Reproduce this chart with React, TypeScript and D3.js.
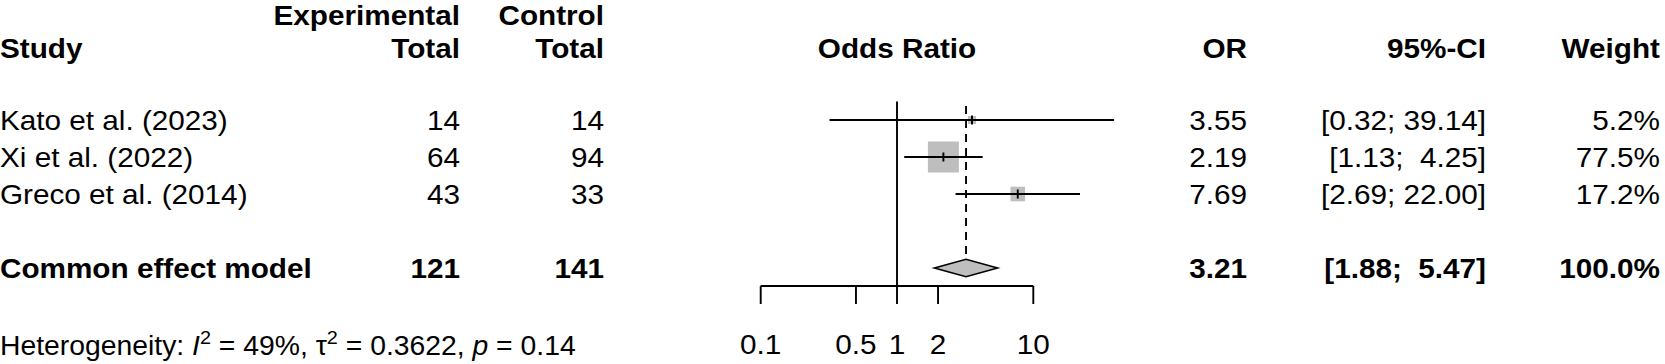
import React from "react";
import * as d3 from "d3";

const studies = ["Kato et al. (2023)", "Xi et al. (2022)", "Greco et al. (2014)"];
const expTotal = [14, 64, 43];
const ctrlTotal = [14, 94, 33];
const oddsRatio = [3.55, 2.19, 7.69];
const ciLow = [0.32, 1.13, 2.69];
const ciHigh = [39.14, 4.25, 22.0];
const weights = [5.2, 77.5, 17.2];

const pooledLabel = "Common effect model";
const pooledExp = 121;
const pooledCtrl = 141;
const pooledOR = 3.21;
const pooledLow = 1.88;
const pooledHigh = 5.47;
const pooledWeight = 100.0;

const axisTicks = [0.1, 0.5, 1, 2, 10];

const W = 1665;
const H = 364;
const FONT = "'Liberation Sans', Arial, Helvetica, sans-serif";
const FS = 27.5;
const SX = 1.08;
const GRAY = "#bebebe";
const LW = 1.9;

const x = d3.scaleLog().domain([0.1, 10]).range([760.7, 1033.3]);
const rowY = d3.scaleLinear().domain([0, 1]).range([120, 157]);
const side = d3.scaleSqrt().domain([0, 77.5]).range([0, 31]);

const f2 = d3.format(".2f");
const f1 = d3.format(".1f");
const ciText = (lo: number, hi: number) => `[${f2(lo)}; ${f2(hi).padStart(5, " ")}]`;

const COL = { study: 0, exp: 460, ctrl: 604, or: 1247, ci: 1486, weight: 1660 };

function T({ x, y, children, anchor = "start", bold = false }: any) {
  return (
    <text
      transform={`translate(${x},${y}) scale(${SX},1)`}
      textAnchor={anchor}
      fontFamily={FONT}
      fontSize={FS}
      fontWeight={bold ? "bold" : "normal"}
      fill="#000"
      style={{ whiteSpace: "pre" }}
    >
      {children}
    </text>
  );
}

export default function App() {
  const base = 9.5;
  const pooledRow = 4;
  const py = rowY(pooledRow);
  const axisY = 286;
  const diamondH = 8.7;
  return (
    <svg
      width={W}
      height={H}
      style={{ position: "absolute", left: 0, top: 0, background: "#fff" }}
    >
      <rect x={0} y={0} width={W} height={H} fill="#fff" />
      {/* headers */}
      <T x={COL.exp} y={25} anchor="end" bold>Experimental</T>
      <T x={COL.ctrl} y={25} anchor="end" bold>Control</T>
      <T x={COL.study} y={58} bold>Study</T>
      <T x={COL.exp} y={58} anchor="end" bold>Total</T>
      <T x={COL.ctrl} y={58} anchor="end" bold>Total</T>
      <T x={x(1)} y={58} anchor="middle" bold>Odds Ratio</T>
      <T x={COL.or} y={58} anchor="end" bold>OR</T>
      <T x={COL.ci} y={58} anchor="end" bold>95%-CI</T>
      <T x={COL.weight} y={58} anchor="end" bold>Weight</T>

      {/* reference line at 1 */}
      <line x1={x(1)} x2={x(1)} y1={101.5} y2={axisY} stroke="#000" strokeWidth={LW} />
      {/* pooled dashed line */}
      <line
        x1={x(pooledOR)}
        x2={x(pooledOR)}
        y1={106}
        y2={py - diamondH}
        stroke="#000"
        strokeWidth={LW}
        strokeDasharray="8,6"
      />

      {studies.map((s, i) => {
        const y = rowY(i);
        const sz = side(weights[i]);
        return (
          <g key={s}>
            <T x={COL.study} y={y + base}>{s}</T>
            <T x={COL.exp} y={y + base} anchor="end">{expTotal[i]}</T>
            <T x={COL.ctrl} y={y + base} anchor="end">{ctrlTotal[i]}</T>
            <rect
              x={x(oddsRatio[i]) - sz / 2}
              y={y - sz / 2}
              width={sz}
              height={sz}
              fill={GRAY}
            />
            <line x1={x(ciLow[i])} x2={x(ciHigh[i])} y1={y} y2={y} stroke="#000" strokeWidth={LW} />
            <line
              x1={x(oddsRatio[i])}
              x2={x(oddsRatio[i])}
              y1={y - 4.5}
              y2={y + 4.5}
              stroke="#000"
              strokeWidth={LW}
            />
            <T x={COL.or} y={y + base} anchor="end">{f2(oddsRatio[i])}</T>
            <T x={COL.ci} y={y + base} anchor="end">{ciText(ciLow[i], ciHigh[i])}</T>
            <T x={COL.weight} y={y + base} anchor="end">{f1(weights[i]) + "%"}</T>
          </g>
        );
      })}

      {/* pooled */}
      <T x={COL.study} y={py + base} bold>{pooledLabel}</T>
      <T x={COL.exp} y={py + base} anchor="end" bold>{pooledExp}</T>
      <T x={COL.ctrl} y={py + base} anchor="end" bold>{pooledCtrl}</T>
      <polygon
        points={[
          [x(pooledLow), py],
          [x(pooledOR), py - diamondH],
          [x(pooledHigh), py],
          [x(pooledOR), py + diamondH],
        ]
          .map((p) => p.join(","))
          .join(" ")}
        fill={GRAY}
        stroke="#000"
        strokeWidth={1.6}
      />
      <T x={COL.or} y={py + base} anchor="end" bold>{f2(pooledOR)}</T>
      <T x={COL.ci} y={py + base} anchor="end" bold>{ciText(pooledLow, pooledHigh)}</T>
      <T x={COL.weight} y={py + base} anchor="end" bold>{f1(pooledWeight) + "%"}</T>

      {/* axis */}
      <line x1={x(0.1)} x2={x(10)} y1={axisY} y2={axisY} stroke="#000" strokeWidth={LW} />
      {axisTicks.map((t) => (
        <g key={t}>
          <line x1={x(t)} x2={x(t)} y1={axisY} y2={axisY + 18} stroke="#000" strokeWidth={LW} />
          <T x={x(t)} y={353.5} anchor="middle">{String(t)}</T>
        </g>
      ))}

      {/* heterogeneity */}
      <text
        transform={`translate(0,355) scale(1.03,1)`}
        fontFamily={FONT}
        fontSize={FS}
        fill="#000"
        style={{ whiteSpace: "pre" }}
      >
        <tspan>Heterogeneity: </tspan>
        <tspan fontStyle="italic">I</tspan>
        <tspan fontSize={FS * 0.7} dy={-11}>2</tspan>
        <tspan dy={11}> = 49%, </tspan>
        <tspan>τ</tspan>
        <tspan fontSize={FS * 0.7} dy={-11}>2</tspan>
        <tspan dy={11}> = 0.3622, </tspan>
        <tspan fontStyle="italic">p</tspan>
        <tspan> = 0.14</tspan>
      </text>
    </svg>
  );
}
